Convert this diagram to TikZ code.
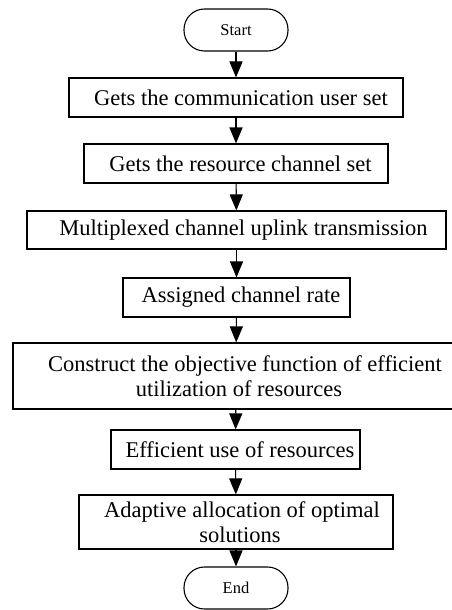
\documentclass[tikz,border=0pt]{standalone}
\usepackage{fontspec}
\setmainfont{Liberation Serif}
\usetikzlibrary{arrows.meta}
\newcommand{\bigsz}{\fontsize{22.5}{25}\selectfont}
\newcommand{\smallsz}{\fontsize{16.5}{19}\selectfont}
\tikzset{
  stepbox/.style={draw, line width=1.1pt, inner sep=0pt, align=center, font=\bigsz},
  termbox/.style={draw, line width=1.1pt, rounded corners=20.5pt, inner sep=0pt,
    minimum width=104pt, minimum height=42pt, font=\smallsz},
  arr/.style={line width=1.1pt, -{Triangle[length=16pt,width=13pt]}}
}
\begin{document}
\begin{tikzpicture}[x=1pt,y=-1pt]
\useasboundingbox (0,0) rectangle (452,610);
\node[termbox] (start) at (236,30) {Start};
\node[stepbox, minimum width=334pt, minimum height=39pt] (b1) at (236,97.5) {\hspace*{10pt}Gets the communication user set};
\node[stepbox, minimum width=304pt, minimum height=39pt] (b2) at (236,163.5) {\hspace*{9pt}Gets the resource channel set};
\node[stepbox, minimum width=419pt, minimum height=38pt] (b3) at (236.5,230) {\hspace*{14pt}Multiplexed channel uplink transmission};
\node[stepbox, minimum width=227pt, minimum height=39pt] (b4) at (236.5,297.5) {\hspace*{9pt}Assigned channel rate};
\node[stepbox, minimum width=446pt, minimum height=66pt] (b5) at (236,376) {\hspace*{18pt}Construct the objective function of efficient\\\hspace*{6pt}utilization of resources};
\node[stepbox, minimum width=249pt, minimum height=39pt] (b6) at (235.5,449.5) {\hspace*{9pt}Efficient use of resources};
\node[stepbox, minimum width=314pt, minimum height=54pt] (b7) at (236,522) {\hspace*{12pt}Adaptive allocation of optimal\\\hspace*{8pt}solutions};
\node[termbox] (end) at (236,588) {End};
\draw[arr] (start) -- (b1);
\draw[arr] (b1) -- (b2);
\draw[arr] (b2) -- (b3);
\draw[arr] (b3) -- (b4);
\draw[arr] (b4) -- (b5);
\draw[arr] (b5) -- (b6);
\draw[arr] (b6) -- (b7);
\draw[arr] (b7) -- (end);
\end{tikzpicture}
\end{document}
